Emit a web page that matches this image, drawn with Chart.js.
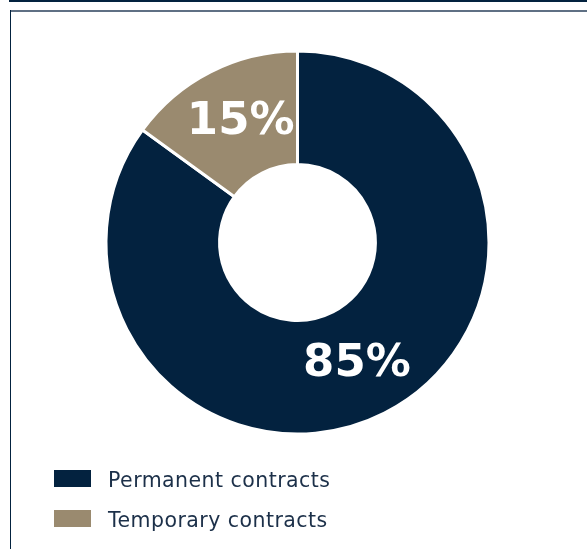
<!DOCTYPE html>
<html>
<head>
<meta charset="utf-8">
<script src="https://cdn.jsdelivr.net/npm/chart.js@4.4.1/dist/chart.umd.min.js"></script>
<style>
  html, body { margin: 0; padding: 0; background: #ffffff; }
  body { width: 587px; height: 549px; position: relative; overflow: hidden; }
  .topbar { position: absolute; left: 9px; top: 0; width: 578px; height: 2px; background: #03223f; }
  .frame-top { position: absolute; left: 10px; top: 10px; width: 577px; height: 2px; background: #5f7084; }
  .frame-left { position: absolute; left: 10px; top: 10px; width: 1px; height: 539px; background: #03223f; }
  canvas { position: absolute; left: 0; top: 0; }
</style>
</head>
<body>
<div class="topbar"></div>
<div class="frame-top"></div>
<div class="frame-left"></div>
<canvas id="chart" width="587" height="549"></canvas>
<script>
// Workforce split by contract type (percent)
const categories = ['Permanent contracts', 'Temporary contracts'];
const shares = [85, 15];
const sliceColors = ['#03223f', '#9a8a6f'];
const valueLabels = ['85%', '15%'];

// Where each value label sits: angle (degrees clockwise from 12 o'clock) and distance from the centre
const labelPlacement = [
  { angle: 153, dist: 131 },
  { angle: -24.5, dist: 137 }
];

const valueLabelPlugin = {
  id: 'valueLabels',
  afterDatasetsDraw(chart) {
    const meta = chart.getDatasetMeta(0);
    const ctx = chart.ctx;
    ctx.save();
    ctx.font = 'bold 45px "DejaVu Sans"';
    ctx.fillStyle = '#ffffff';
    ctx.textAlign = 'center';
    ctx.textBaseline = 'alphabetic';
    meta.data.forEach((arc, i) => {
      const p = labelPlacement[i];
      const a = p.angle * Math.PI / 180;
      const x = arc.x + p.dist * Math.sin(a);
      const y = arc.y - p.dist * Math.cos(a);
      ctx.fillText(valueLabels[i], x, y + 16.5);
    });
    ctx.restore();
  }
};

const stackedLegendPlugin = {
  id: 'stackedLegend',
  afterDraw(chart) {
    const ctx = chart.ctx;
    const ds = chart.data.datasets[0];
    ctx.save();
    ctx.font = '20.5px "DejaVu Sans"';
    ctx.letterSpacing = '0.45px';
    ctx.textBaseline = 'alphabetic';
    ctx.textAlign = 'left';
    chart.data.labels.forEach((label, i) => {
      const top = 470 + i * 40;
      ctx.fillStyle = ds.backgroundColor[i];
      ctx.fillRect(54, top, 37, 17);
      ctx.fillStyle = '#1c3049';
      ctx.fillText(label, 108, top + 17);
    });
    ctx.restore();
  }
};

new Chart(document.getElementById('chart'), {
  type: 'doughnut',
  data: {
    labels: categories,
    datasets: [{
      data: shares,
      backgroundColor: sliceColors,
      borderColor: '#ffffff',
      borderWidth: 3,
      hoverOffset: 0
    }]
  },
  options: {
    responsive: false,
    animation: false,
    cutout: '40.7%',
    rotation: 0,
    layout: { padding: { left: 104.5, top: 49.5, right: 96.5, bottom: 113.5 } },
    plugins: {
      legend: { display: false },
      tooltip: { enabled: false }
    }
  },
  plugins: [valueLabelPlugin, stackedLegendPlugin]
});
</script>
</body>
</html>
